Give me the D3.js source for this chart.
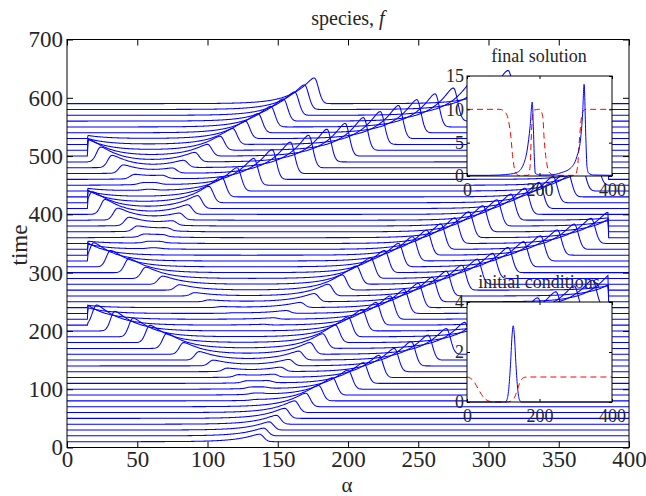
<!DOCTYPE html>
<html>
<head>
<meta charset="utf-8">
<script src="https://cdn.jsdelivr.net/npm/d3@7"></script>
<style>
	body { margin: 0; background: #fff; }
</style>
</head>
<body>
<svg id="chart" width="646" height="496"></svg>
<script>
// time of each waterfall row
var rowTimes = [10,20,30,40,50,60,70,80,90,100,110,120,130,140,150,160,170,180,190,200,
	210,220,230,240,250,260,270,280,290,300,310,320,330,340,350,360,370,380,390,400,
	410,420,430,440,450,460,470,480,490,500,510,520,530,540,550,560,570,580,590];

// travelling pulses, one entry per row : [ time, position alpha, height f ]
// right-moving pulses (long tail behind, on the left)
var pulseC1 = [[10,137,3.2],[20,140,3.3],[30,144,3.5],[40,149,3.8],[50,155,4.3],[60,162,5],[70,170,5.8],
	[80,179,6.6],[90,189,7.4],[100,200,8.2],[110,211,8.9],[120,222,9.5],[130,233,10],[140,245,10.4],
	[150,257,10.7],[160,270,11],[170,283,11.2],[180,296,11.4],[190,309,11.5],[200,322,11.6],[210,335,11.7],
	[220,348,11.8],[230,361,11.8],[240,374,11.8],[250,387,11.8],[260,400,11.8],[270,413,11.8]];
var pulseC2 = [[90,138,0.3],[100,140,0.5],[110,143,0.8],[120,147,1.2],[130,152,1.8],[140,158,2.7],[150,165,3.8],
	[160,173,5],[170,182,6.3],[180,191,7.5],[190,200,8.5],[200,210,9.2],[210,220,9.7],[220,230,10],[230,240,10.2],
	[240,250,10.4],[250,260,10.5],[260,270,10.6],[270,281,10.7],[280,292,10.8],[290,303,10.8],[300,314,10.8],
	[310,325,10.8],[320,337,10.8],[330,349,10.8],[340,361,10.8],[350,373,10.8],[360,385,10.8],[370,397,10.8],
	[380,409,10.8],[390,421,10.8]];
var pulseC3 = [[210,140,0.3],[220,147,0.6],[230,156,1.2],[240,166,2.2],[250,176,3.5],[260,186,5],[270,196,6.5],
	[280,206,7.8],[290,216,8.8],[300,226,9.5],[310,236,10],[320,246,10.4],[330,256,10.7],[340,266,10.9],
	[350,276,11],[360,286,11.1],[370,296,11.2],[380,306,11.2],[390,316,11.2],[400,326,11.2],[410,336,11.2],
	[420,346,11.2],[430,356,11.2],[440,366,11.2],[450,376,11.2],[460,386,11.2],[470,396,11.2],[480,406,11.2],
	[490,416,11.2]];
var pulseR3 = [[340,64,0.3],[350,66,0.5],[360,68,0.8],[370,71,1.2],[380,75,1.8],[390,80,2.8],[400,86,4],
	[410,93,5.5],[420,101,7],[430,110,8.5],[440,121,10],[450,133,11.5],[460,146,12.8],[470,159,13.5],
	[480,172,13.9],[490,185,14],[500,198,14],[510,211,14],[520,223,14.1],[530,236,14.2],[540,249,14.2],
	[550,262,14.2],[560,275,14.2],[570,288,14.2],[580,301,14.2],[590,314,14.2]];
var pulseR4 = [[440,60,0.3],[450,63,0.6],[460,68,1.2],[470,75,2],[480,83,3],[490,91,4],[500,100,5],
	[510,109,6],[520,118,6.8],[530,127,7.5],[540,136,8.2],[550,145,8.8],[560,154,9.5],[570,162,10],
	[580,169,10.5],[590,176,11]];
// left-moving pulses (long tail behind, on the right)
var pulseL1 = [[80,134,0.3],[90,133,0.45],[100,131,0.6],[110,128,0.8],[120,122,1],[130,114,1.4],[140,104,2.4],
	[150,94,3.6],[160,83,5],[170,71,6.4],[180,59,7.4],[190,47,8],[200,34,8.4],[210,21,8.6],[220,8,8.6],
	[230,-5,8.6],[240,-18,8.6]];
var pulseL2 = [[230,118,0.2],[240,110,0.4],[250,101,0.8],[260,91,1.4],[270,80,2.3],[280,68,3.5],[290,56,4.8],
	[300,44,6],[310,31,7],[320,19,7.8],[330,7,8],[340,-5,8],[350,-17,8]];
var pulseL3 = [[340,60,0.3],[350,58,0.6],[360,55,1.2],[370,50,2.2],[380,44,3.5],[390,36,5],[400,27,6.3],
	[410,18,7.2],[420,8,7.6],[430,-3,7.6],[440,-14,7.6]];
var pulseL4 = [[440,57,0.3],[450,54,0.7],[460,48,1.8],[470,40,3.5],[480,32,5.2],[490,24,6.3],[500,16,7],
	[510,7,7.2],[520,-2,7.2],[530,-11,7.2]];

// insets : [ alpha, value ]
var finalF = [[0,0.1],[60,0.1],[91,0.15],[120,0.3],[137,0.5],[155,1.65],[166,3.9],[174,7.4],[180,11.1],
	[183,7.4],[186,2.4],[188.5,0.4],[201,0.15],[229,0.15],[260,0.5],[285,1.15],[303,2.9],[313,5.4],[319,9.4],
	[323,13.75],[328,5.4],[331,1.4],[336,0.4],[349,0.15],[400,0.1]];
var finalG = [[0,10],[91,10],[105,9.6],[114,8.4],[121,5.9],[126,2.9],[133,0.7],[142,0.1],[169,0.1],[174,1.4],
	[177,5.4],[180.5,8.9],[186,9.9],[197,10],[201,10],[209,8.9],[213,5.4],[220,1.9],[229,0.4],[243,0.1],
	[298,0.1],[305,1.4],[310,5.4],[316,8.9],[321,9.8],[330,10],[400,10]];
var initialF = [[0,0],[105,0],[110,0.08],[115,0.5],[120,1.5],[124,2.6],[127.5,3.05],[131,2.6],[135,1.5],
	[140,0.5],[145,0.08],[150,0],[400,0]];
var initialG = [[0,1],[10,0.95],[20,0.8],[30,0.55],[40,0.3],[50,0.12],[60,0.04],[70,0],[110,0],[120,0.03],
	[130,0.15],[138,0.45],[145,0.75],[152,0.93],[160,0.99],[170,1],[400,1]];

var xTicks = [0,50,100,150,200,250,300,350,400];
var yTicks = [0,100,200,300,400,500,600,700];

var FONT = "'Liberation Serif', 'Times New Roman', 'DejaVu Serif', serif";

var pulses = [
	{ dir : "R", rows : pulseC1 }, { dir : "R", rows : pulseC2 }, { dir : "R", rows : pulseC3 },
	{ dir : "R", rows : pulseR3 }, { dir : "R", rows : pulseR4 },
	{ dir : "L", rows : pulseL1 }, { dir : "L", rows : pulseL2 }, { dir : "L", rows : pulseL3 },
	{ dir : "L", rows : pulseL4 }
];

var svg = d3.select("#chart");

var x = d3.scaleLinear().domain([0, 400]).range([67, 629]);
var y = d3.scaleLinear().domain([0, 700]).range([447.5, 39.5]);

// shape of one pulse : steep front, exponential tail behind
function pulse_value( dir, p, A, a ){
	var d = dir === "R" ? a - p : p - a;
	if( d > 0 ) return A * Math.exp( -( d / 4.2 ) * ( d / 4.2 ) );
	var e = -d;
	return A * Math.exp( -( Math.sqrt( e * e + 6.25 ) - 2.5 ) / 14 );
}

var alphaGrid = d3.range(0, 400.25, 0.5);

var rowData = rowTimes.map(function(t){
	var active = [];
	pulses.forEach(function(P){
		P.rows.forEach(function(r){ if( r[0] === t ) active.push({ dir : P.dir, p : r[1], A : r[2] }); });
	});
	return alphaGrid.map(function(a){
		var f = 0;
		if( a >= 15 && a <= 385 ){
			active.forEach(function(q){ f += pulse_value( q.dir, q.p, q.A, a ); });
		}
		return [ a, t + 4 * f ];
	});
});

svg.append("clipPath").attr("id", "plotclip")
	.append("rect").attr("x", 67).attr("y", 39.5).attr("width", 562).attr("height", 408);

var line = d3.line().x(function(d){ return x(d[0]); }).y(function(d){ return y(d[1]); });

svg.append("g")
	.attr("clip-path", "url(#plotclip)")
	.selectAll("path")
	.data(rowData)
	.enter()
	.append("path")
		.attr("d", line)
		.attr("fill", "none")
		.attr("stroke", "#0000ff")
		.attr("stroke-width", 1.05);

// axes with ticks pointing inside, like matlab
function style_axis( g, fontSize ){
	g.selectAll(".domain").remove();
	g.selectAll("line").attr("stroke", "#000");
	g.selectAll("text")
		.style("font-family", FONT)
		.style("font-size", fontSize + "px")
		.attr("fill", "#262626");
}

svg.append("g")
	.attr("transform", "translate(0,447.5)")
	.call( d3.axisBottom(x).tickValues(xTicks).tickSize(-6).tickPadding(3).tickFormat(d3.format("d")) )
	.call( style_axis, 23 );
svg.append("g")
	.attr("transform", "translate(0,39.5)")
	.call( d3.axisTop(x).tickValues(xTicks).tickSize(-6).tickFormat("") )
	.call( style_axis, 23 );
svg.append("g")
	.attr("transform", "translate(67,0)")
	.call( d3.axisLeft(y).tickValues(yTicks).tickSize(-6).tickPadding(4).tickFormat(d3.format("d")) )
	.call( style_axis, 23 );
svg.append("g")
	.attr("transform", "translate(629,0)")
	.call( d3.axisRight(y).tickValues(yTicks).tickSize(-6).tickFormat("") )
	.call( style_axis, 23 );

svg.append("rect")
	.attr("x", 67).attr("y", 39.5).attr("width", 562).attr("height", 408)
	.attr("fill", "none").attr("stroke", "#000").attr("stroke-width", 1);

var title = svg.append("text").attr("x", 348).attr("y", 25).attr("text-anchor", "middle")
	.style("font-family", FONT).style("font-size", "20px").attr("fill", "#262626");
title.append("tspan").text("species,  ");
title.append("tspan").style("font-style", "italic").text("f");

svg.append("text")
	.attr("x", 347).attr("y", 492).attr("text-anchor", "middle")
	.style("font-family", FONT).style("font-size", "21px").attr("fill", "#262626").text("α");
svg.append("text")
	.attr("transform", "translate(27,245) rotate(-90)").attr("text-anchor", "middle")
	.style("font-family", FONT).style("font-size", "23px").attr("fill", "#262626").text("time");

// insets
function draw_inset( p ){
	var xi = d3.scaleLinear().domain([0, 400]).range([467, 612]);
	var yi = d3.scaleLinear().domain([0, p.yMax]).range([p.bottom, p.top]);
	var g = svg.append("g");

	g.append("rect")
		.attr("x", 467).attr("y", p.top).attr("width", 145).attr("height", p.bottom - p.top)
		.attr("fill", "#fff");

	var l = d3.line().x(function(d){ return xi(d[0]); }).y(function(d){ return yi(d[1]); }).curve(d3.curveMonotoneX);

	g.append("path").attr("d", l(p.g))
		.attr("fill", "none").attr("stroke", "#ff0000").attr("stroke-width", 1)
		.attr("stroke-dasharray", "6,4");
	g.append("path").attr("d", l(p.f))
		.attr("fill", "none").attr("stroke", "#0000ff").attr("stroke-width", 1);

	g.append("g").attr("transform", "translate(0," + p.bottom + ")")
		.call( d3.axisBottom(xi).tickValues([0, 200, 400]).tickSize(-3).tickPadding(7).tickFormat(d3.format("d")) )
		.call( style_axis, 18 );
	g.append("g").attr("transform", "translate(0," + p.top + ")")
		.call( d3.axisTop(xi).tickValues([0, 200, 400]).tickSize(-3).tickFormat("") )
		.call( style_axis, 18 );
	g.append("g").attr("transform", "translate(467,0)")
		.call( d3.axisLeft(yi).tickValues(p.yTicks).tickSize(-3).tickPadding(3).tickFormat(d3.format("d")) )
		.call( style_axis, 18 );
	g.append("g").attr("transform", "translate(612,0)")
		.call( d3.axisRight(yi).tickValues(p.yTicks).tickSize(-3).tickFormat("") )
		.call( style_axis, 18 );

	g.append("rect")
		.attr("x", 467).attr("y", p.top).attr("width", 145).attr("height", p.bottom - p.top)
		.attr("fill", "none").attr("stroke", "#000").attr("stroke-width", 1);

	g.append("text")
		.attr("x", 539).attr("y", p.top - 14).attr("text-anchor", "middle")
		.style("font-family", FONT).style("font-size", "18px").attr("fill", "#262626").text(p.title);
}

draw_inset({ title : "final solution", top : 76, bottom : 176, yMax : 15, yTicks : [0, 5, 10, 15], f : finalF, g : finalG });
draw_inset({ title : "initial conditions", top : 302, bottom : 402, yMax : 4, yTicks : [0, 2, 4], f : initialF, g : initialG });
</script>
</body>
</html>
